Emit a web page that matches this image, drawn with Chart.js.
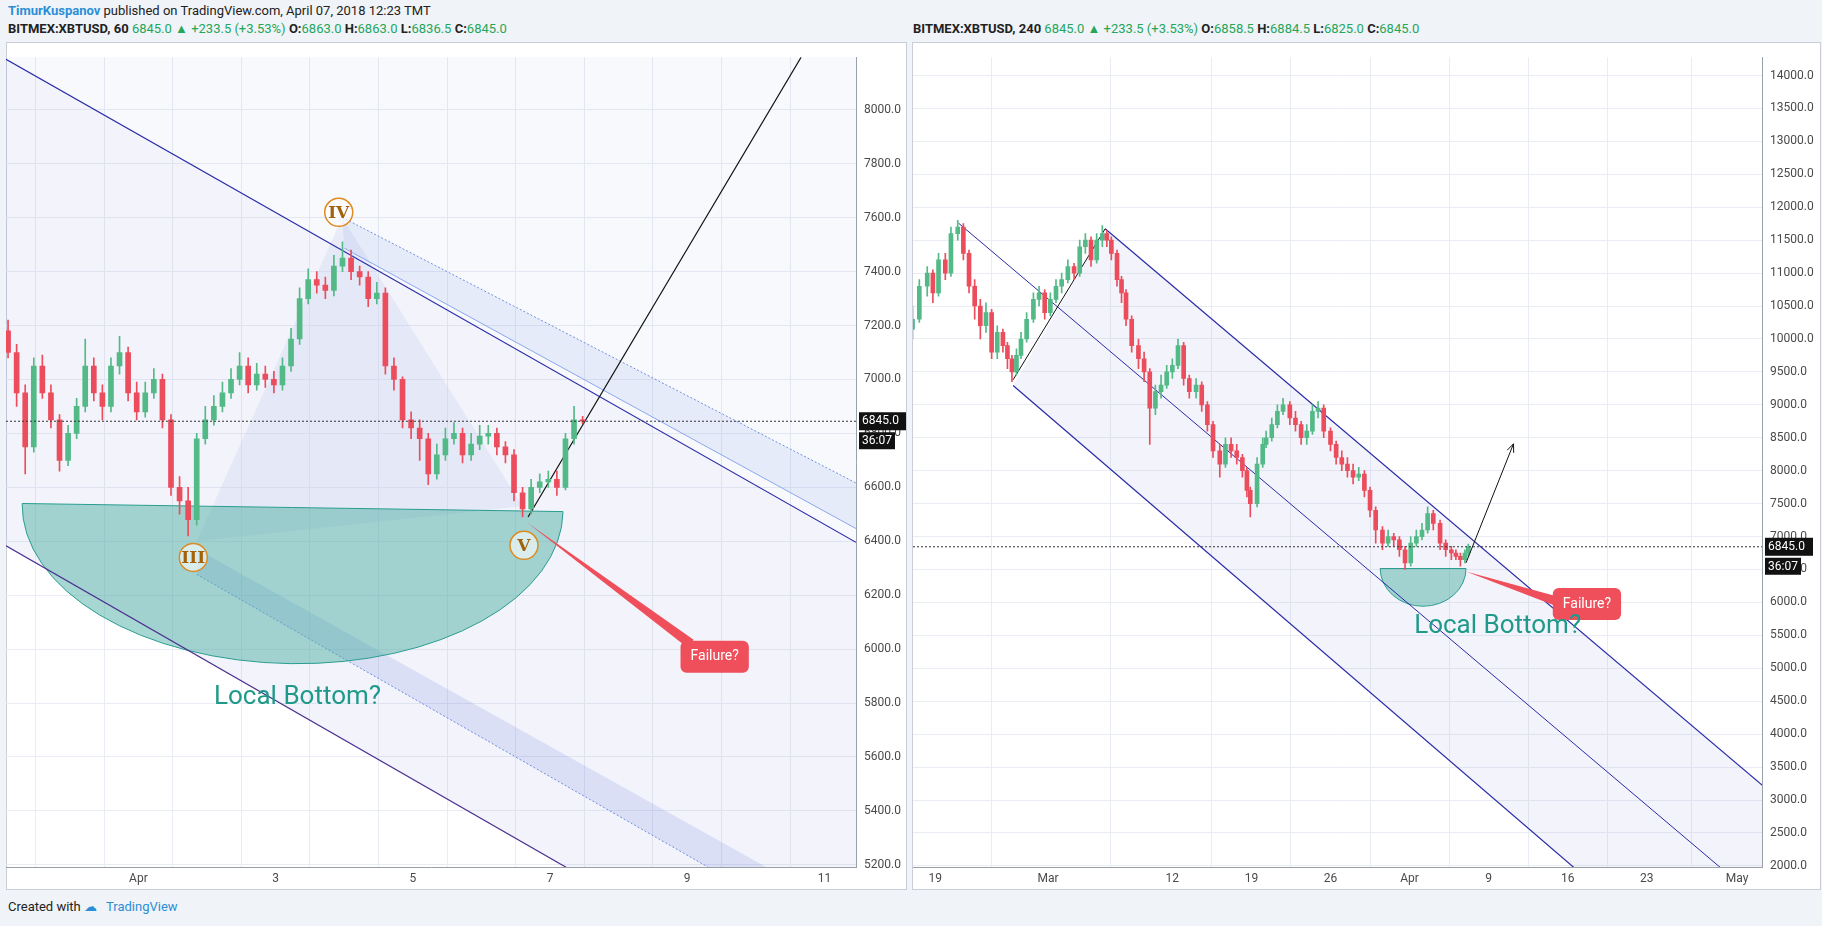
<!DOCTYPE html>
<html><head><meta charset="utf-8">
<script src="https://cdn.jsdelivr.net/npm/chart.js@4.4.1/dist/chart.umd.min.js"></script>
<style>
body{margin:0;width:1822px;height:926px;background:#f0f3f8;font-family:Roboto,"Liberation Sans",sans-serif;position:relative;overflow:hidden}
.panel{position:absolute;top:42px;height:848px;background:#fff;border:1px solid #c9ced8;box-sizing:border-box}
canvas{position:absolute;top:42px}
.t{position:absolute;font-size:13px;color:#222;white-space:nowrap}
.b{font-weight:bold}
.g{color:#26a65b}
</style></head><body>
<div class="t" style="left:8px;top:3px"><span style="color:#2a8fd6;font-weight:bold">TimurKuspanov</span> published on TradingView.com, April 07, 2018 12:23 TMT</div>
<div class="t" style="left:8px;top:21px"><span class="b">BITMEX:XBTUSD, 60</span> <span class="g">6845.0 ▲ +233.5 (+3.53%)</span> <span class="b">O:</span><span class="g">6863.0</span> <span class="b">H:</span><span class="g">6863.0</span> <span class="b">L:</span><span class="g">6836.5</span> <span class="b">C:</span><span class="g">6845.0</span></div>
<div class="t" style="left:913px;top:21px"><span class="b">BITMEX:XBTUSD, 240</span> <span class="g">6845.0 ▲ +233.5 (+3.53%)</span> <span class="b">O:</span><span class="g">6858.5</span> <span class="b">H:</span><span class="g">6884.5</span> <span class="b">L:</span><span class="g">6825.0</span> <span class="b">C:</span><span class="g">6845.0</span></div>
<div class="panel" style="left:6px;width:901px"></div>
<div class="panel" style="left:912px;width:909px"></div>
<canvas id="c1" width="900" height="848" style="left:6px"></canvas>
<canvas id="c2" width="907" height="848" style="left:913px"></canvas>
<div class="t" style="left:8px;top:899px;font-size:13px">Created with <span style="color:#2a8fd6;display:inline-block;width:22px">☁</span><span style="color:#2a8fd6">TradingView</span></div>
<script>
// ---------- LEFT (1h) data ----------
const leftStart = -0.9, leftStep = 0.125;
const leftClose = [7100,6950,6750,7050,6950,6850,6700,6800,6900,7050,6950,6900,7050,7100,6950,6880,6950,7000,6850,6600,6550,6480,6780,6850,6900,6950,7000,7050,6980,7020,7000,6980,7050,7150,7300,7370,7350,7330,7420,7450,7400,7380,7300,7320,7050,7000,6850,6820,6780,6650,6720,6780,6800,6720,6760,6790,6800,6750,6720,6580,6520,6600,6620,6630,6600,6780,6850,6845];
const leftFirstOpen = 7180;
const leftHigh = [7220,7130,6980,7080,7090,6980,6870,6830,6930,7150,7080,6980,7080,7160,7120,6990,6990,7040,7020,6870,6640,6600,6800,6900,6940,6990,7040,7100,7080,7060,7050,7030,7080,7190,7340,7410,7400,7380,7460,7510,7480,7420,7400,7360,7340,7080,7010,6880,6850,6800,6760,6820,6840,6820,6800,6830,6830,6820,6770,6740,6600,6630,6650,6660,6660,6800,6900,6863];
const leftLow = [7080,6900,6650,6730,6930,6820,6660,6680,6780,6880,6920,6850,6880,7020,6920,6850,6860,6930,6820,6570,6500,6420,6460,6760,6830,6880,6930,6980,6950,6960,6970,6950,6960,7030,7130,7280,7320,7300,7310,7400,7370,7350,7270,7280,7020,6960,6820,6780,6700,6610,6630,6700,6760,6690,6700,6740,6760,6720,6690,6550,6490,6500,6580,6600,6570,6590,6760,6836];
const leftXTicks = [0,1,2,3,4,5,6,7,8,9,10,11];
const leftXLabels = {1:"Apr",3:"3",5:"5",7:"7",9:"9",11:"11"};
const leftYTicks = [5200,5400,5600,5800,6000,6200,6400,6600,6800,7000,7200,7400,7600,7800,8000];

// ---------- RIGHT (4h) data ----------
const rightTime = [-12,-11.4,-10.7,-10.2,-9.7,-9.1,-8.6,-8.0,-7.5,-7.0,-6.5,-6.0,-5.5,-5.0,-4.5,-4.0,-3.6,-3.2,-2.8,-2.4,-1.9,-1.3,-0.8,-0.3,0.2,0.7,1.2,1.75,2.3,2.8,3.3,3.8,4.3,4.8,5.2,5.6,6.1,6.5,6.9,7.4,8.0,8.5,9.0,9.5,10.0,10.5,11.0,11.5,12.0,12.5,13.1,13.6,14.1,14.6,15.2,15.7,16.2,16.7,17.2,17.6,17.9,18.5,19.0,19.3,19.8,20.3,20.8,21.4,21.9,22.4,22.9,23.4,23.9,24.4,25.0,25.5,26.0,26.5,27.0,27.5,28.0,28.5,29.0,29.6,30.1,30.6,31.1,31.6,32.1,32.6,33.1,33.6,34.1,34.7,35.2,35.7,36.1,36.5,36.9,37.2];
const rightClose = [10300,10800,11000,10700,11200,11000,11600,11700,11300,10800,10500,10200,10400,9800,10100,9900,9700,9500,9750,10000,10300,10600,10700,10400,10600,10800,10900,11100,11000,11400,11500,11200,11500,11600,11500,11300,10900,10700,10300,9900,9700,9500,8950,9200,9300,9500,9600,9900,9400,9200,9300,9000,8700,8300,8100,8400,8300,8200,8000,7700,7500,8100,8400,8500,8700,8900,9000,8800,8700,8500,8600,8900,8950,8600,8400,8200,8100,8000,7900,7950,7700,7400,7100,6900,7000,6950,6800,6600,6900,7000,7100,7350,7200,6900,6800,6750,6700,6650,6750,6845];
const rightFirstOpen = 10150;
const rightHigh = [10500,10900,11100,11050,11300,11300,11700,11800,11750,11350,10900,10600,10550,10450,10200,10150,9950,9750,9850,10100,10400,10700,10800,10750,10700,10900,11000,11200,11150,11500,11600,11550,11600,11720,11650,11550,11350,10950,10750,10350,10000,9800,9550,9300,9450,9600,9700,10000,9950,9450,9400,9350,9050,8750,8400,8500,8500,8400,8250,8050,7750,8200,8500,8600,8800,9000,9100,9050,8900,8750,8700,9000,9050,9000,8650,8450,8300,8200,8100,8050,8000,7750,7450,7150,7100,7050,7000,6850,7000,7100,7200,7450,7400,7250,6950,6850,6800,6750,6800,6885];
const rightLow = [10000,10250,10650,10550,10650,10900,10950,11500,11200,10700,10300,10000,10100,9700,9700,9800,9550,9350,9450,9700,9950,10250,10500,10300,10350,10550,10700,10850,10900,10950,11300,11100,11150,11400,11400,11200,10800,10550,10200,9800,9550,9350,8400,8850,9100,9250,9400,9550,9300,9100,9100,8900,8600,8200,7900,8050,8200,8100,7900,7600,7300,7450,8050,8350,8450,8650,8850,8700,8600,8400,8400,8550,8800,8500,8300,8100,8000,7900,7800,7850,7600,7300,6900,6800,6850,6850,6700,6500,6550,6850,6950,7050,7100,6800,6700,6650,6650,6550,6600,6700];
const rightXTicks = [-10,0,11,18,25,32,39,46,53,61];
const rightXLabels = {"-10":"19","0":"Mar","11":"12","18":"19","25":"26","32":"Apr","39":"9","46":"16","53":"23","61":"May"};
const rightYTicks = [2000,2500,3000,3500,4000,4500,5000,5500,6000,6500,7000,7500,8000,8500,9000,9500,10000,10500,11000,11500,12000,12500,13000,13500,14000];

const lastPrice = 6845;
const UP = '#53b987', DN = '#eb4d5c';

function candleSets(times, closes, firstOpen, highs, lows, bodyW){
  const n = Math.min(times.length, closes.length, highs.length, lows.length);
  const wick=[], body=[], col=[];
  for(let i=0;i<n;i++){
    const o = i? closes[i-1] : firstOpen, c = closes[i];
    wick.push({x:times[i], y:[lows[i], highs[i]]});
    body.push({x:times[i], y:[Math.min(o,c), Math.max(o,c)+ (o===c?5:0)]});
    col.push(c>=o?UP:DN);
  }
  return [
    {type:'bar', data:wick, backgroundColor:col, barThickness:1, grouped:false, order:1},
    {type:'bar', data:body, backgroundColor:col, barThickness:bodyW, grouped:false, order:0}
  ];
}

function makeChart(id, sets, xmin, xmax, ymin, ymax, xTicks, xLabels, yTicks, yAxisW, ann){
  return new Chart(document.getElementById(id), {
    type:'bar',
    data:{datasets:sets},
    options:{
      responsive:false, animation:false, devicePixelRatio:1,
      layout:{padding:{left:0,right:0,top:0,bottom:0}},
      plugins:{legend:{display:false}, tooltip:{enabled:false}},
      scales:{
        x:{type:'linear', min:xmin, max:xmax, offset:false,
          afterBuildTicks:s=>{s.ticks = xTicks.map(v=>({value:v}));},
          afterFit:s=>{s.height=23;},
          grid:{color:'#e9edf3', drawTicks:false}, border:{color:'#9aa0a8'},
          ticks:{autoSkip:false, maxRotation:0, color:'#4a4a4a', font:{family:'Roboto',size:12}, padding:5,
            callback:v=> xLabels[String(v)] ?? ''}},
        y:{position:'right', min:ymin, max:ymax,
          afterBuildTicks:s=>{s.ticks = yTicks.map(v=>({value:v}));},
          afterFit:s=>{s.width=yAxisW;},
          grid:{color:'#e9edf3', drawTicks:false}, border:{color:'#9aa0a8'},
          ticks:{color:'#4a4a4a', font:{family:'Roboto',size:12}, padding:8, callback:v=>v.toFixed(1)}}
      }
    },
    plugins:[ann]
  });
}

function P(ch){const X=ch.scales.x,Y=ch.scales.y;return (x,y)=>[X.getPixelForValue(x),Y.getPixelForValue(y)];}
function poly(ctx,pts,fill,stroke,w,dash){ctx.beginPath();pts.forEach((p,i)=>i?ctx.lineTo(p[0],p[1]):ctx.moveTo(p[0],p[1]));
  if(fill){ctx.closePath();ctx.fillStyle=fill;ctx.fill();}
  if(stroke){ctx.strokeStyle=stroke;ctx.lineWidth=w||1;ctx.setLineDash(dash||[]);ctx.stroke();ctx.setLineDash([]);}}
function cup(ctx,p,l,r,top,bottom){
  const a=p(l,top[0]), b=p(r,top[1]), m=p((l+r)/2,bottom);
  const cx=(a[0]+b[0])/2, cy=(a[1]+b[1])/2, rx=(b[0]-a[0])/2, ry=m[1]-cy, rot=Math.atan2(b[1]-a[1],b[0]-a[0]);
  ctx.beginPath();ctx.ellipse(cx,cy,rx,ry,rot,0,Math.PI);ctx.closePath();
  ctx.fillStyle='rgba(80,175,165,0.5)';ctx.fill();ctx.strokeStyle='#2a9d8f';ctx.lineWidth=1;ctx.stroke();}
function failure(ctx,from,to,box){
  const dx=to[0]-from[0],dy=to[1]-from[1],L=Math.hypot(dx,dy),nx=-dy/L,ny=dx/L;
  poly(ctx,[[from[0],from[1]],[to[0]+nx*5,to[1]+ny*5],[to[0]-nx*5,to[1]-ny*5]],'#ef4f5b');
  ctx.font='14px Roboto';const w=ctx.measureText('Failure?').width+20,h=32;
  ctx.fillStyle='#ef4f5b';ctx.beginPath();ctx.roundRect(box[0]-w/2,box[1]-h/2,w,h,6);ctx.fill();
  ctx.fillStyle='#fff';ctx.textAlign='center';ctx.textBaseline='middle';ctx.fillText('Failure?',box[0],box[1]);}
function circ(ctx,c,txt){ctx.beginPath();ctx.arc(c[0],c[1],14,0,Math.PI*2);ctx.fillStyle='rgba(255,255,255,0.6)';ctx.fill();
  ctx.strokeStyle='#e08a1e';ctx.lineWidth=1.5;ctx.stroke();ctx.fillStyle='#a3620a';ctx.font='bold 17px "DejaVu Serif"';
  ctx.textAlign='center';ctx.textBaseline='middle';ctx.fillText(txt,c[0],c[1]+1);}
function priceTag(ch){const ctx=ch.ctx,a=ch.chartArea,y=ch.scales.y.getPixelForValue(lastPrice);
  ctx.save();ctx.setLineDash([2,2]);ctx.strokeStyle='#333';ctx.lineWidth=1;ctx.beginPath();ctx.moveTo(a.left,y);ctx.lineTo(a.right,y);ctx.stroke();ctx.restore();
  ctx.fillStyle='#111';ctx.fillRect(a.right+3,y-9,48,18);ctx.fillRect(a.right+3,y+11,36,17);
  ctx.fillStyle='#fff';ctx.font='12px Roboto';ctx.textAlign='left';ctx.textBaseline='middle';
  ctx.fillText('6845.0',a.right+6,y);ctx.fillText('36:07',a.right+6,y+20);}

const leftAnn = {id:'la',
  beforeDatasetsDraw(ch){const ctx=ch.ctx,a=ch.chartArea,p=P(ch);ctx.save();ctx.beginPath();ctx.rect(a.left,a.top,a.width,a.height);ctx.clip();
    poly(ctx,[p(-0.93,8187),p(11.46,6396),p(11.46,4574),p(-0.93,6383)],'rgba(120,130,215,0.09)');
    poly(ctx,[p(-0.93,8187),p(-0.93,8300),p(11.46,8300),p(11.46,6396)],'rgba(120,130,215,0.05)');
    poly(ctx,[p(1.85,6400),p(3.97,7601),p(6.6,6530)],'rgba(200,210,240,0.3)');
    poly(ctx,[p(3.97,7601),p(11.46,6616),p(11.46,6447),p(4.0,7487)],'rgba(110,150,230,0.14)');
    poly(ctx,[p(3.97,7601),p(11.46,6616)],null,'#6f8fe0',1,[2,2]);
    poly(ctx,[p(4.0,7487),p(11.46,6447)],null,'#8aa6ee',1);
    poly(ctx,[p(1.85,6371),p(10.15,5192),p(9.3,5192),p(1.85,6277)],'rgba(90,115,220,0.16)');
    poly(ctx,[p(1.85,6277),p(9.3,5192)],null,'#6f8fe0',1,[2,2]);
    cup(ctx,p,-0.695,7.19,[6540,6510],5946);
    poly(ctx,[p(-0.93,8187),p(11.46,6396)],null,'#2a2aa8',1.2);
    poly(ctx,[p(-0.93,6383),p(11.46,4574)],null,'#4b2f8f',1.2);
    poly(ctx,[p(6.68,6490),p(10.66,8195)],null,'#111',1.2);
    ctx.restore();},
  afterDatasetsDraw(ch){const ctx=ch.ctx,p=P(ch);
    priceTag(ch);
    failure(ctx,p(6.66,6470),p(9.05,6020),p(9.4,5972));
    circ(ctx,p(3.92,7620),'IV');circ(ctx,p(1.8,6340),'III');circ(ctx,p(6.62,6385),'V');
    ctx.fillStyle='#1f9a8a';ctx.font='26px Roboto';ctx.textAlign='center';ctx.textBaseline='middle';
    ctx.fillText('Local Bottom?',...p(3.32,5822));}
};
const rightAnn = {id:'ra',
  beforeDatasetsDraw(ch){const ctx=ch.ctx,a=ch.chartArea,p=P(ch);ctx.save();ctx.beginPath();ctx.rect(a.left,a.top,a.width,a.height);ctx.clip();
    poly(ctx,[p(-3.1,9293),p(5.05,11673),p(70,2240),p(56,582)],'rgba(120,130,215,0.09)');
    cup(ctx,p,29.4,37.0,[6515,6515],5942);
    poly(ctx,[p(5.05,11673),p(70,2240)],null,'#2a2aa8',1.2);
    poly(ctx,[p(-7.94,11760),p(70,454)],null,'#2a2aa8',1);
    poly(ctx,[p(-3.1,9293),p(56,582)],null,'#2a2aa8',1.2);
    poly(ctx,[p(-3.1,9380),p(5.05,11673)],null,'#111',1);
    ctx.restore();},
  afterDatasetsDraw(ch){const ctx=ch.ctx,p=P(ch);
    priceTag(ch);
    const s=p(37.0,6602),e=p(41.2,8408);poly(ctx,[s,e],null,'#111',1);
    const ang=Math.atan2(e[1]-s[1],e[0]-s[0]);
    poly(ctx,[[e[0]-9*Math.cos(ang-0.4),e[1]-9*Math.sin(ang-0.4)],e,[e[0]-9*Math.cos(ang+0.4),e[1]-9*Math.sin(ang+0.4)]],null,'#111',1);
    failure(ctx,p(37.0,6470),p(45.5,5990),p(47.7,5976));
    ctx.fillStyle='#1f9a8a';ctx.font='26px Roboto';ctx.textAlign='center';ctx.textBaseline='middle';
    ctx.fillText('Local Bottom?',...p(39.8,5629));}
};

makeChart('c1', candleSets(leftClose.map((_,i)=>leftStart+i*leftStep), leftClose, leftFirstOpen, leftHigh, leftLow, 5),
  -0.93, 11.46, 5192, 8195, leftXTicks, leftXLabels, leftYTicks, 50, leftAnn);
makeChart('c2', candleSets(rightTime, rightClose, rightFirstOpen, rightHigh, rightLow, 4),
  -11.96, 63.2, 1983, 14278, rightXTicks, rightXLabels, rightYTicks, 58, rightAnn);
</script>
</body></html>
